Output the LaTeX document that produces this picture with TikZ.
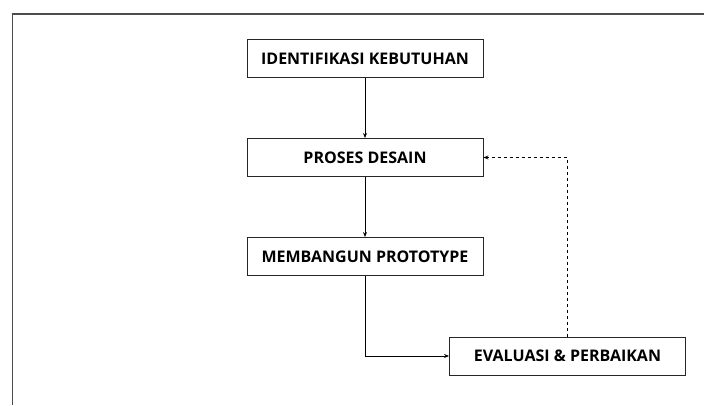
\documentclass[tikz,border=0pt]{standalone}
\usepackage{fontspec}
\setmainfont{Open Sans}
\usepackage{tikz}
\usetikzlibrary{arrows.meta}

\tikzset{
  tahap/.style={draw=black!85, line width=0.9pt, minimum width=236pt, minimum height=38pt,
    inner sep=0pt, font=\bfseries\fontsize{16}{18}\selectfont},
  panah/.style={line width=0.8pt, -{Stealth[length=5pt,width=4pt]}}
}

\begin{document}
\begin{tikzpicture}[x=1pt,y=1pt]
\useasboundingbox (0,0) rectangle (704,-405);
% bingkai
\draw[line width=1.4pt, black!70] (12.5,-405) - - (12.5,-14) - - (704,-14);
% tahapan
\node[tahap] (identifikasi) at (365,-58.5) {IDENTIFIKASI KEBUTUHAN};
\node[tahap] (desain) at (365,-157.5) {PROSES DESAIN};
\node[tahap] (prototype) at (365,-256.5) {MEMBANGUN PROTOTYPE};
\node[tahap] (evaluasi) at (567.5,-356) {EVALUASI \& PERBAIKAN};
% alur
\draw[panah] (identifikasi) - - (desain);
\draw[panah] (desain) - - (prototype);
\draw[panah] (prototype.south) |- (evaluasi.west);
\draw[panah, dashed] (evaluasi.north) |- (desain.east);
\end{tikzpicture}
\end{document}
